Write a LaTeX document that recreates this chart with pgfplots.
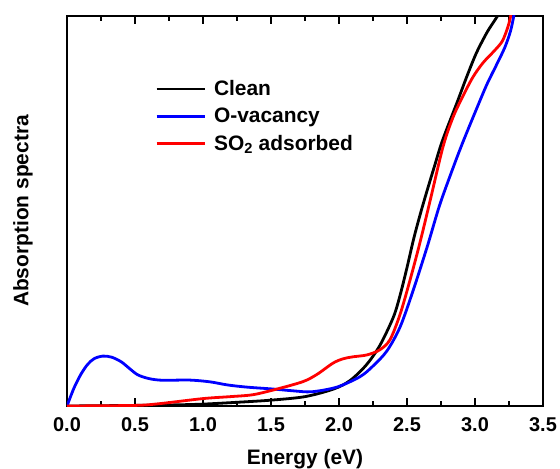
\documentclass[border=0pt]{standalone}
\usepackage{pgfplots}
\pgfplotsset{compat=1.18}
\usepackage{fontspec}
\setmainfont{Liberation Sans}
\begin{document}
\begin{tikzpicture}
\path[use as bounding box] (-67bp,-63bp) rectangle (493bp,406bp);
\begin{axis}[
  at={(0,0)}, anchor=south west,
  width=476bp, height=390bp, scale only axis=true,
  xmin=0, xmax=3.5, ymin=0, ymax=2,
  xtick={0,0.5,...,3.5},
  minor x tick num=1,
  ytick=\empty,
  minor ytick={1},
  major tick length=8bp,
  minor tick length=5bp,
  axis line style={line width=1.8bp},
  every tick/.style={line width=1.5bp, black},
  /pgf/number format/assume math mode=true,
  xticklabel style={font=\fontsize{20}{20}\selectfont\bfseries, yshift=-8bp,
    /pgf/number format/.cd, fixed, fixed zerofill, precision=1},
  xlabel={Energy (eV)},
  ylabel={Absorption spectra},
  label style={font=\fontsize{21}{21}\selectfont\bfseries},
  xlabel style={at={(axis description cs:0.5,-0.135)}, anchor=center},
  ylabel style={at={(axis description cs:-0.0924,0.5)}, anchor=center},
  legend style={at={(axis description cs:0.185,0.84)}, anchor=north west,
    draw=none, fill=none, font=\fontsize{21}{21}\selectfont\bfseries,
    row sep=7bp, inner sep=0pt},
  legend cell align=left,
  legend image code/.code={\draw[#1] (0bp,0bp) -- (48bp,0bp); \path (54bp,0bp);},
  every axis plot/.append style={line width=2.8bp, smooth, tension=0.5},
]
\addplot[black] coordinates {
(0,0) (0.5,0.003) (0.81,0.006) (1.01,0.010) (1.25,0.019) (1.50,0.030)
(1.75,0.048) (1.96,0.087) (2.08,0.13) (2.20,0.21) (2.30,0.31)
(2.40,0.456) (2.45,0.57) (2.50,0.71) (2.55,0.86) (2.60,0.99)
(2.65,1.11) (2.70,1.225) (2.76,1.36) (2.87,1.56) (2.94,1.69)
(3.01,1.81) (3.09,1.918) (3.17,2.005) (3.22,2.07)
};
\addlegendentry{Clean}
\addplot[blue] coordinates {
(0,0) (0.05,0.09) (0.10,0.16) (0.15,0.212) (0.20,0.243) (0.265,0.256)
(0.33,0.25) (0.40,0.226) (0.46,0.192) (0.52,0.16) (0.60,0.141) (0.70,0.132)
(0.90,0.133) (1.05,0.124) (1.18,0.108) (1.32,0.097) (1.515,0.087)
(1.66,0.078) (1.80,0.073) (1.985,0.097) (2.154,0.15) (2.25,0.205)
(2.353,0.283) (2.449,0.405) (2.544,0.59) (2.65,0.82) (2.74,1.03)
(2.838,1.22) (2.912,1.355) (3.015,1.53) (3.088,1.65) (3.162,1.755)
(3.22,1.84) (3.26,1.92) (3.285,2.0) (3.30,2.08)
};
\addlegendentry{O-vacancy}
\addplot[red] coordinates {
(0,0) (0.5,0.003) (0.68,0.012) (1.0,0.038) (1.2,0.048) (1.368,0.058) (1.544,0.087)
(1.735,0.125) (1.838,0.162) (1.956,0.22) (2.03,0.242) (2.10,0.252)
(2.206,0.262) (2.30,0.288) (2.375,0.34) (2.449,0.47) (2.522,0.645)
(2.596,0.84) (2.669,1.05) (2.765,1.33) (2.838,1.48) (2.912,1.59)
(2.985,1.687) (3.059,1.76) (3.14,1.82) (3.20,1.87) (3.24,1.94) (3.262,2.0) (3.275,2.08)
};
\addlegendentry{SO\textsubscript{2} adsorbed}
\end{axis}
\end{tikzpicture}
\end{document}
